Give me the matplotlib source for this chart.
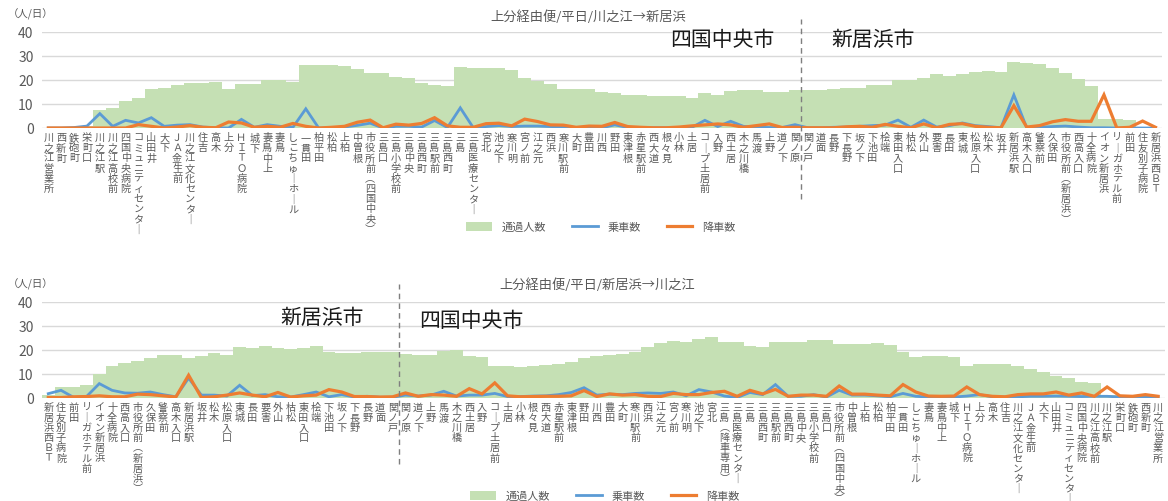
import matplotlib
matplotlib.use("Agg")
import matplotlib.pyplot as plt
from matplotlib.lines import Line2D
from matplotlib.patches import Patch

plt.rcParams["font.family"] = ["Noto Sans CJK JP", "DejaVu Sans"]

GREEN = "#C5E0B4"
BLUE = "#5B9BD5"
ORANGE = "#ED7D31"
GRID = "#D9D9D9"
TEXT = "#595959"

# 川之江 -> 新居浜
stops_a = [
    "川之江営業所", "西新町", "鉄砲町", "栄町口", "川之江駅", "川之江高校前", "四国中央病院",
    "コミュニティセンター", "山田井", "大下", "JA金生前", "川之江文化センター", "住吉", "高木",
    "上分", "HITO病院", "城下", "妻鳥中上", "妻鳥", "しこちゅーホール", "一貫田", "柏平田",
    "松柏", "上柏", "中曽根", "市役所前(四国中央)", "三島口", "三島小学校前", "三島中央",
    "三島西町", "三島駅前", "三島西町", "三島", "三島医療センター", "宮北", "池之下", "寒川明",
    "宮ノ前", "江之元", "西浜", "寒川駅前", "大町", "豊田", "川西", "野田", "東津根", "赤星駅前",
    "西大道", "根々見", "小林", "土居", "コープ土居前", "入野", "西土居", "木之川橋", "馬渡",
    "上野", "道ノ下", "関ノ原", "関ノ戸", "道面", "長野", "下長野", "坂ノ下", "下池田", "桧端",
    "東田入口", "枯松", "外山", "要害", "長田", "東城", "松原入口", "松木", "坂井", "新居浜駅",
    "高木入口", "警察前", "久保田", "市役所前(新居浜)", "西高入口", "十全病院", "イオン新居浜",
    "リーガホテル前", "前田", "住友別子病院", "新居浜西BT",
]
passing_a = [
    0, 0, 0.3, 0.8, 7.6, 8.2, 11.4, 12.5, 16.4, 16.7, 17.8, 18.7, 18.9, 19.0, 16.3, 18.2,
    18.4, 19.8, 20.0, 19.0, 26.2, 26.2, 26.2, 25.9, 24.4, 23.1, 23.0, 21.3, 21.0, 18.8, 17.8,
    17.5, 25.3, 25.2, 24.8, 24.8, 24.1, 21.0, 19.4, 18.2, 16.2, 16.2, 16.2, 15.2, 14.4, 13.6,
    13.6, 13.3, 13.3, 13.2, 12.3, 14.4, 13.7, 15.3, 15.8, 15.7, 14.8, 14.8, 15.9, 15.9, 15.9,
    16.2, 16.5, 16.5, 17.8, 17.8, 19.9, 19.9, 21.0, 22.4, 21.7, 22.3, 23.4, 23.7, 23.5, 27.3,
    27.2, 26.6, 24.8, 22.8, 20.3, 17.3, 3.7, 3.7, 3.3, 0.3, 0,
]
board_a = [
    0, 0, 0.2, 0.8, 6.0, 0.7, 3.2, 2.1, 4.3, 0.7, 1.2, 1.4, 0.4, 0.1, 0, 3.6, 0.3, 1.4, 0.7,
    0.3, 8.0, 0, 0, 0.4, 1.1, 2.0, 0, 0.7, 0.7, 0.4, 3.1, 0.2, 8.4, 0.2, 0.6, 1.0, 0.6, 0.8,
    0.8, 0.6, 0.5, 0.1, 0.1, 0.1, 1.3, 0.2, 0.2, 0.1, 0.1, 0.2, 0.3, 3.2, 0.6, 2.8, 0.7, 0.3,
    0.2, 0.2, 1.4, 0.1, 0.1, 0.3, 0.4, 0.7, 1.0, 1.2, 3.3, 0.3, 3.3, 0.4, 1.0, 2.1, 1.0, 0.6,
    0.1, 13.8, 0.1, 0.3, 0.6, 0.8, 0.4, 0.1, 0.1, 0, 0, 0, 0,
]
alight_a = [
    0, 0, 0, 0, 0, 0, 0, 1.4, 0.7, 0, 0.4, 1.0, 0.3, 0.1, 2.5, 2.1, 0.3, 0.7, 0.3, 1.9, 0.7,
    0, 0.3, 0.7, 2.4, 3.3, 0.1, 1.6, 1.2, 1.9, 4.3, 0.9, 0.3, 0.3, 1.8, 2.0, 0.9, 3.7, 2.7,
    1.3, 1.2, 0.3, 0.8, 0.7, 2.3, 0.6, 0.3, 0.1, 0.1, 0.4, 0.9, 1.3, 1.7, 1.3, 0.3, 1.0, 1.7,
    0.2, 0.3, 0.1, 0.1, 0.1, 0.5, 0.7, 0.3, 1.5, 0.7, 0.1, 1.7, 0.1, 1.5, 1.8, 0.7, 0.3, 0.1,
    9.3, 0.4, 1.0, 2.6, 3.5, 2.8, 2.8, 13.8, 0, 0.3, 2.9, 0.3,
]

# 新居浜 -> 川之江
stops_b = [
    "新居浜西BT", "住友別子病院", "前田", "リーガホテル前", "イオン新居浜", "十全病院", "西高入口",
    "市役所前(新居浜)", "久保田", "警察前", "高木入口", "新居浜駅", "坂井", "松木", "松原入口",
    "東城", "長田", "要害", "外山", "枯松", "東田入口", "桧端", "下池田", "坂ノ下", "下長野",
    "長野", "道面", "関ノ戸", "関ノ原", "道ノ下", "上野", "馬渡", "木之川橋", "西土居", "入野",
    "コープ土居前", "土居", "小林", "根々見", "西大道", "赤星駅前", "東津根", "野田", "川西",
    "豊田", "大町", "寒川駅前", "西浜", "江之元", "宮ノ前", "寒川明", "池之下", "宮北",
    "三島(降車専用)", "三島医療センター", "三島", "三島西町", "三島駅前", "三島西町", "三島中央",
    "三島小学校前", "三島口", "市役所前(四国中央)", "中曽根", "上柏", "松柏", "柏平田", "一貫田",
    "しこちゅーホール", "妻鳥", "妻鳥中上", "城下", "HITO病院", "上分", "高木", "住吉",
    "川之江文化センター", "JA金生前", "大下", "山田井", "コミュニティセンター", "四国中央病院",
    "川之江高校前", "川之江駅", "栄町口", "鉄砲町", "西新町", "川之江営業所",
]
passing_b = [
    1.2, 4.4, 4.4, 5.1, 10.0, 13.0, 14.6, 15.2, 16.7, 17.8, 17.8, 16.4, 17.2, 18.5, 17.9,
    21.2, 20.8, 21.4, 20.6, 20.1, 20.6, 21.4, 19.0, 18.5, 18.5, 19.1, 19.1, 19.1, 18.2, 17.8,
    17.8, 19.6, 20.0, 17.5, 16.8, 13.1, 13.0, 12.8, 13.1, 13.4, 14.1, 14.8, 16.4, 17.2, 17.8,
    18.2, 19.2, 21.0, 22.8, 23.6, 23.0, 24.4, 25.1, 23.3, 23.0, 21.7, 21.2, 23.3, 23.0, 23.0,
    24.1, 24.1, 22.3, 22.3, 22.5, 22.6, 21.9, 18.9, 17.1, 17.5, 17.2, 17.1, 13.1, 14.1, 14.1,
    13.8, 13.1, 11.7, 10.6, 9.0, 8.1, 6.5, 6.1, 1.2, 1.0, 0.7, 0.3, 0,
]
board_b = [
    1.6, 3.0, 0, 0.4, 5.8, 3.0, 1.9, 1.8, 2.3, 1.2, 0.3, 8.1, 1.0, 1.0, 0.6, 5.1, 0.8, 1.2,
    0.3, 0.2, 1.2, 2.3, 0.3, 1.2, 0.2, 0.5, 0.1, 0.1, 1.0, 0.6, 1.0, 2.6, 0.6, 1.0, 1.0, 1.7,
    0.4, 0.4, 0.6, 0.7, 1.2, 2.1, 4.1, 1.0, 1.4, 1.2, 1.7, 1.9, 1.7, 2.3, 0.7, 3.3, 2.3, 0.6,
    0, 2.1, 1.2, 5.4, 0.5, 0.5, 1.2, 0.2, 3.0, 1.0, 1.0, 0.7, 0.3, 1.7, 0.5, 0.2, 0.2, 0.2,
    0.6, 1.2, 0.3, 0.2, 0.3, 0.5, 0.5, 0.6, 0.5, 0.4, 0.5, 0.5, 0.2, 0.1, 0.1, 0,
]
alight_b = [
    0, 0, 0.3, 0.4, 0.7, 0.3, 0.3, 1.4, 1.2, 0.7, 0.2, 9.3, 0, 0.3, 1.0, 1.9, 1.0, 0.3, 2.1,
    0.2, 0.7, 1.0, 3.3, 2.3, 0.4, 0.4, 0.2, 0.3, 1.9, 0.5, 1.2, 1.0, 0.5, 3.7, 1.5, 6.1, 0.7,
    0.3, 0.4, 0.5, 0.5, 0.7, 2.9, 0.4, 1.5, 1.0, 1.2, 0.5, 0.4, 1.7, 1.2, 1.2, 2.1, 2.6, 0.5,
    3.0, 1.5, 3.4, 0.5, 1.0, 1.0, 0.5, 4.8, 1.4, 1.4, 1.0, 0.7, 5.4, 2.3, 0.6, 0.5, 0.6, 4.4,
    1.2, 0.5, 0.3, 1.2, 1.5, 1.5, 2.3, 1.0, 1.9, 0.5, 4.4, 0.7, 0.5, 1.2, 0.5,
]

series_names = ["通過人数", "乗車数", "降車数"]
yticks = [0, 10, 20, 30, 40]


def tate(name):
    # stack characters for vertical (tategaki) tick labels
    swap = {"ー": "｜", "(": "︵", ")": "︶"}
    out = []
    for c in name:
        c = swap.get(c, c)
        if "A" <= c <= "Z":
            c = chr(ord(c) + 0xFEE0)
        out.append(c)
    return "\n".join(out)


def draw_panel(ax, stops, passing, board, alight):
    x = list(range(len(stops)))
    ax.bar(x, passing, width=1.0, color=GREEN, linewidth=0, zorder=2)
    ax.plot(x, board, color=BLUE, lw=2.0, zorder=3, solid_joinstyle="miter")
    ax.plot(x, alight, color=ORANGE, lw=2.3, zorder=4, solid_joinstyle="miter")
    ax.set_xlim(-0.5, len(stops) - 0.5)
    ax.set_ylim(0, 40)
    ax.set_yticks(yticks)
    ax.set_xticks(x)
    ax.set_xticklabels([tate(s) for s in stops], fontsize=7.3, color=TEXT,
                       linespacing=1.02, va="top")
    ax.tick_params(axis="x", length=0, pad=3)
    ax.tick_params(axis="y", length=0, pad=6, labelsize=10, labelcolor=TEXT)
    ax.grid(True, axis="y", color=GRID, lw=1.0, zorder=0)
    ax.set_axisbelow(True)
    for s in ax.spines.values():
        s.set_visible(False)


fig = plt.figure(figsize=(11.68, 5.02), dpi=100)
ax1 = fig.add_axes([41.9 / 1168, 1 - 129 / 502, 1120 / 1168, 96 / 502])
ax2 = fig.add_axes([41.9 / 1168, 1 - 398.5 / 502, 1122.6 / 1168, 95.8 / 502])

draw_panel(ax1, stops_a, passing_a, board_a, alight_a)
draw_panel(ax2, stops_b, passing_b, board_b, alight_b)

# city boundary
ax1.axvline(58.5, ymin=-0.74, ymax=1.135, color="#7F7F7F", lw=1.0, ls=(0, (4, 3)),
            clip_on=False, zorder=5)
ax2.axvline(27.5, ymin=-0.69, ymax=1.185, color="#7F7F7F", lw=1.0, ls=(0, (4, 3)),
            clip_on=False, zorder=5)

ax1.text(48.3, 37.2, "四国中央市", fontsize=15, va="center", ha="left", color="#1A1A1A")
ax1.text(60.8, 37.2, "新居浜市", fontsize=15, va="center", ha="left", color="#1A1A1A")
ax2.text(18.2, 33.6, "新居浜市", fontsize=15, va="center", ha="left", color="#1A1A1A")
ax2.text(29.1, 32.3, "四国中央市", fontsize=15, va="center", ha="left", color="#1A1A1A")

fig.text(588 / 1168, 1 - 17 / 502, "上分経由便/平日/川之江→新居浜", fontsize=9.5,
         color=TEXT, ha="center", va="center")
fig.text(597 / 1168, 1 - 285 / 502, "上分経由便/平日/新居浜→川之江", fontsize=9.5,
         color=TEXT, ha="center", va="center")
fig.text(8 / 1168, 1 - 14 / 502, "（人/日）", fontsize=7.5, color=TEXT, ha="left", va="center")
fig.text(8 / 1168, 1 - 284 / 502, "（人/日）", fontsize=7.5, color=TEXT, ha="left", va="center")

handles = [
    Patch(facecolor=GREEN, edgecolor="none"),
    Line2D([], [], color=BLUE, lw=2.0),
    Line2D([], [], color=ORANGE, lw=2.3),
]
for ycen, xcen in [(228, 601), (497, 605)]:
    fig.legend(handles, series_names, loc="center", ncol=3, frameon=False,
               bbox_to_anchor=(xcen / 1168, 1 - ycen / 502), fontsize=8,
               handlelength=2.3, handleheight=0.9, handletextpad=0.9, columnspacing=2.3,
               labelcolor=TEXT)

fig.savefig("out.png", dpi=100)
